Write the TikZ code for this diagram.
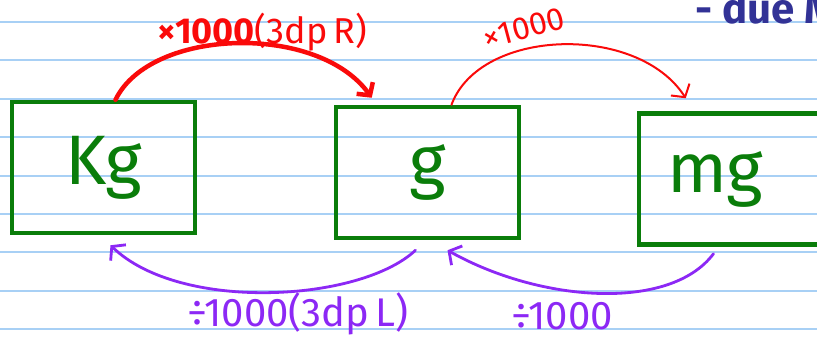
\documentclass[tikz,border=0pt]{standalone}
\usepackage{fontspec}
\setmainfont{Fira Sans}
\definecolor{rulecol}{RGB}{168, 208, 245}
\definecolor{boxgreen}{RGB}{10, 125, 10}
\definecolor{penred}{RGB}{250, 10, 10}
\definecolor{penpurple}{RGB}{140, 40, 245}
\definecolor{pennavy}{RGB}{50, 50, 150}
\usetikzlibrary{arrows.meta, positioning, calc}

\begin{document}
\begin{tikzpicture}[
  x=1pt, y=-1pt,
  ruleline/.style={draw=rulecol, line width=2pt},
  unitbox/.style={draw=boxgreen, line width=4.5pt, minimum width=183pt, minimum height=131pt, inner sep=0pt, text=boxgreen, font=\fontsize{70}{70}\selectfont},
  redbig/.style={draw=penred, line width=4.5pt, line cap=round, -{Straight Barb[length=9pt, width=20pt]}},
  redthin/.style={draw=penred, line width=2pt, line cap=round, -{Straight Barb[length=9pt, width=22pt]}},
  backarrow/.style={draw=penpurple, line width=2.8pt, line cap=round, -{Straight Barb[length=9pt, width=22pt]}},
  redlbl/.style={text=penred, font=\fontsize{36}{36}\selectfont},
  purplbl/.style={text=penpurple, font=\fontsize{40}{40}\selectfont}
]
  \useasboundingbox (0,0) rectangle (817,350);
  \clip (0,0) rectangle (817,350);
  \fill[white] (0,0) rectangle (817,350);
  \foreach \k in {0,...,8}
    \draw[ruleline] (0,{22+38.4*\k}) -- (817,{22+38.4*\k});

  \node[anchor=base west, text=pennavy, font=\bfseries\fontsize{42}{42}\selectfont] (note) at (692,24) {- due M};

  \node[unitbox] (kg) at (103.5,167.5) {Kg};
  \node[unitbox] (g) at (427.5,172.5) {g};
  \node[unitbox, text width=127pt, align=left, inner xsep=24pt] (mg) at (730.5,179) {mg};

  \draw[redbig] ([xshift=12pt]kg.north) .. controls +(35,-72) and +(-54,-75) .. ([shift={(38,-7)}]g.north west);
  \draw[redthin] ([xshift=24pt]g.north) .. controls +(28.5,-77) and +(-48,-75) .. ([shift={(49,-13)}]mg.north west);
  \draw[backarrow] ([shift={(-12,10)}]g.south) .. controls +(-55.5,52) and +(69.5,67) .. ([shift={(7,10)}]kg.south);
  \draw[backarrow] ([shift={(-17,7)}]mg.south) .. controls +(-43.5,58) and +(92.5,52) .. ([shift={(20,10)}]g.south);

  \node[redlbl] (kgtog) at (262,32) {{\bfseries ×1000}(3dp\,R)};
  \node[redlbl, rotate=15, font=\fontsize{32}{32}\selectfont] (gtomg) at (524,28) {×1000};
  \node[purplbl] (gtokg) at (298,314) {÷1000(3dp\,L)};
  \node[purplbl] (mgtog) at (562,316) {÷1000};
\end{tikzpicture}
\end{document}
